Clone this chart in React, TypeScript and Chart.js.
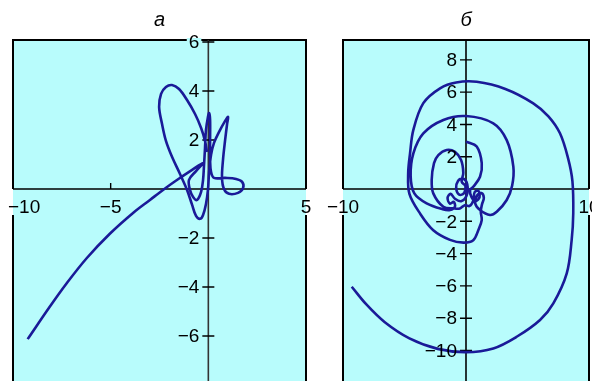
import React, { useEffect, useRef } from 'react';
import { Chart, registerables } from 'chart.js';

Chart.register(...registerables);

const W = 592;
const H = 381;

// ---- Panel а ----
const aX = [
  -9.25, -8.11, -7.25, -6.23, -5.03, -3.84, -2.99, -2.13, -1.45, -0.83, -0.27,
  -0.63, -0.99, -0.94, -0.78, -0.58, -0.37, -0.27, -0.22, -0.17, -0.12, -0.02, 0.04,
  0.09, 0.09, 0.09, 0.14, 0.29, 0.86, 1.42, 1.73, 1.78, 1.52, 1.06, 0.8, 0.7,
  0.75, 0.86, 0.96, 1.01, 0.86, 0.55, 0.29, 0.14, 0.04, -0.02, -0.12, -0.27, -0.42,
  -0.63, -0.83, -1.09, -1.45, -1.86, -2.17, -2.37, -2.52, -2.42, -2.17, -1.86, -1.5,
  -1.09, -0.68, -0.37, -0.17, -0.07,
];
const aY = [
  -6.13, -4.8, -3.85, -2.83, -1.82, -0.97, -0.45, 0.07, 0.45, 0.78, 1.06,
  0.73, 0.37, -0.04, -0.33, -0.45, -0.12, 0.37, 0.98, 1.67, 2.41, 2.94, 3.1,
  2.82, 2.0, 1.18, 0.69, 0.45, 0.45, 0.41, 0.29, 0.04, -0.16, -0.2, 0.0, 0.45,
  1.18, 2.0, 2.65, 2.94, 2.78, 2.33, 1.88, 1.39, 0.69, -0.04, -0.61, -1.06, -1.22,
  -1.1, -0.65, -0.04, 0.61, 1.31, 1.96, 2.65, 3.35, 3.88, 4.16, 4.24, 4.08,
  3.63, 3.06, 2.49, 1.96, 1.51,
];
const aXLabels = [-10, -5, 5];
const aXMarks = [-5];
const aYLabels = [6, 4, 2, -2, -4, -6];

// ---- Panel б ----
const bX = [
  0, 0.87, 1.28, 1.14, 0.59, 0.33,
  0.45, 0.8, 1.1, 1.0, 0.7, 0.6, 0.3, -0.1, -0.5, -1.0,
  -1.84, -2.66, -2.79, -2.6, -2.25, -1.57, -0.9, -0.4, -0.22, -0.35,
  -0.05, -0.15, -0.55, -0.8, -0.65, -0.25, 0.1, 0.05, -0.4, -0.9, -1.25, -1.5, -1.3, -1.0, -0.9, -1.3,
  -1.9, -3.2, -4.2, -4.5, -4.28, -3.47, -1.84, 0, 2.22, 3.31, 3.85, 3.75, 3.31, 2.5, 1.95, 1.14,
  0.75, 0.9, 1.25, 1.45, 1.3, 1.2,
  1.28, 1.0, 0.59, -0.2, -1.3, -2.66, -3.74, -4.6, -4.7, -4.55, -4.28, -3.47, -2.11, -0.8, 0.87,
  3.2, 5.47, 6.7, 7.64, 8.3, 8.65, 8.72, 8.59, 8.19, 7.1, 6.02, 4.12, 2.22, 0, -2.3, -4.6,
  -6.6, -8.1, -9.29,
];
const bY = [
  2.94, 2.63, 1.6, 0.76, 0.14, -0.06,
  -0.5, -0.75, -0.5, -0.1, -0.2, -0.7, -1.05, -1.0, -1.2, -1.2,
  -1.1, -0.27, 0.56, 1.6, 2.1, 2.42, 2.3, 1.8, 1.0, 0.45,
  0.2, -0.25, -0.35, 0.05, 0.5, 0.65, 0.3, -0.4, -0.75, -0.6, -0.3, -0.55, -0.9, -0.8, -1.1, -1.3,
  -1.25, -0.89, -0.27, 0.8, 2.21, 3.45, 4.28, 4.52, 4.07, 3.03, 1.38, 0.2, -0.68, -1.41, -1.61, -1.3,
  -0.9, -0.4, -0.25, -0.55, -0.95, -1.4,
  -1.93, -2.55, -3.17, -3.32, -3.15, -2.55, -1.51, -0.3, 1.0, 2.2, 3.66, 5.32, 6.24, 6.6, 6.64,
  6.2, 5.31, 4.5, 3.45, 1.9, 0.5, -1.5, -3.16, -5.22, -7.08, -8.11, -9.15, -9.87, -10.1, -9.9, -9.25,
  -8.25, -7.15, -6.05,
];
const bXLabels = [-10, 10];
const bXMarks: number[] = [];
const bYLabels = [8, 6, 4, 2, -2, -4, -6, -8, -10];

const CYAN = '#b8fcfc';
const LINE = '#1a1a98';
const FONT = '19px "Liberation Sans", Arial, Helvetica, sans-serif';
const TITLE_FONT = 'italic 20px "Liberation Sans", Arial, Helvetica, sans-serif';

const fmt = (v: number) => (v < 0 ? '\u2212' + Math.abs(v) : String(v));

interface PanelCfg {
  title: string;
  xs: number[];
  ys: number[];
  xMin: number;
  xMax: number;
  yMin: number;
  yMax: number;
  xLabels: number[];
  xMarks: number[];
  yLabels: number[];
  padLeft: number;
  padRight: number;
  axisColor: string;
}

const panels: PanelCfg[] = [
  {
    title: '\u0430', xs: aX, ys: aY, xMin: -10, xMax: 5, yMin: -7.84, yMax: 6.08,
    xLabels: aXLabels, xMarks: aXMarks, yLabels: aYLabels, padLeft: 13, padRight: W - 306, axisColor: '#333',
  },
  {
    title: '\u0431', xs: bX, ys: bY, xMin: -10, xMax: 10, yMin: -11.89, yMax: 9.23,
    xLabels: bXLabels, xMarks: bXMarks, yLabels: bYLabels, padLeft: 343, padRight: W - 589, axisColor: '#000',
  },
];

function decor(cfg: PanelCfg) {
  return {
    id: 'decor',
    beforeDatasetsDraw(chart: any) {
      const { ctx, chartArea: a, scales } = chart;
      const x0 = scales.x.getPixelForValue(0);
      const y0 = scales.y.getPixelForValue(0);
      ctx.save();
      ctx.fillStyle = CYAN;
      ctx.fillRect(a.left, a.top, a.right - a.left, a.bottom - a.top);
      // frame (interrupted in the label row)
      ctx.strokeStyle = '#000';
      ctx.lineWidth = 2;
      ctx.beginPath();
      ctx.moveTo(a.left, y0);
      ctx.lineTo(a.left, a.top);
      ctx.lineTo(a.right, a.top);
      ctx.lineTo(a.right, y0);
      ctx.moveTo(a.left, y0 + 26);
      ctx.lineTo(a.left, a.bottom);
      ctx.moveTo(a.right, y0 + 26);
      ctx.lineTo(a.right, a.bottom);
      ctx.stroke();
      // x axis
      ctx.lineWidth = 1.6;
      ctx.beginPath();
      ctx.moveTo(a.left, y0);
      ctx.lineTo(a.right, y0);
      ctx.stroke();
      // y axis
      ctx.strokeStyle = cfg.axisColor;
      ctx.beginPath();
      ctx.moveTo(x0, a.top);
      ctx.lineTo(x0, a.bottom);
      ctx.stroke();
      // ticks
      ctx.strokeStyle = '#000';
      ctx.lineWidth = 1.4;
      ctx.beginPath();
      cfg.yLabels.forEach((v) => {
        const py = scales.y.getPixelForValue(v);
        ctx.moveTo(x0 - 6, py);
        ctx.lineTo(x0 + 6, py);
      });
      cfg.xMarks.forEach((v) => {
        const px = scales.x.getPixelForValue(v);
        ctx.moveTo(px, y0);
        ctx.lineTo(px, y0 - 6);
      });
      ctx.stroke();
      ctx.restore();
    },
    afterDatasetsDraw(chart: any) {
      const { ctx, chartArea: a, scales } = chart;
      const x0 = scales.x.getPixelForValue(0);
      const y0 = scales.y.getPixelForValue(0);
      ctx.save();
      ctx.font = FONT;
      ctx.fillStyle = '#000';
      // y labels
      ctx.textAlign = 'right';
      ctx.textBaseline = 'middle';
      cfg.yLabels.forEach((v) => {
        const py = scales.y.getPixelForValue(v);
        const t = fmt(v);
        const w = ctx.measureText(t).width;
        if (py - a.top < 6) {
          ctx.fillStyle = CYAN;
          ctx.fillRect(x0 - 9 - w - 2, a.top - 2, w + 4, 4);
          ctx.fillStyle = '#000';
        }
        ctx.fillText(t, x0 - 9, py + 1);
      });
      // x labels
      ctx.textAlign = 'left';
      ctx.textBaseline = 'alphabetic';
      cfg.xLabels.forEach((v) => {
        const px = scales.x.getPixelForValue(v);
        const t = fmt(v);
        const w = ctx.measureText(t).width;
        let left = px - w / 2;
        if (left < 8) left = 8;
        ctx.fillText(t, left, y0 + 24);
      });
      // title
      ctx.font = TITLE_FONT;
      ctx.textAlign = 'center';
      ctx.fillText(cfg.title, (a.left + a.right) / 2, 26);
      ctx.restore();
    },
  };
}

function Panel({ cfg }: { cfg: PanelCfg }) {
  const ref = useRef<HTMLCanvasElement | null>(null);
  useEffect(() => {
    if (!ref.current) return;
    const chart = new Chart(ref.current, {
      type: 'scatter',
      data: {
        datasets: [
          {
            data: cfg.xs.map((x, i) => ({ x, y: cfg.ys[i] })),
            showLine: true,
            borderColor: LINE,
            backgroundColor: LINE,
            borderWidth: 2.6,
            pointRadius: 0,
            tension: 0.35,
            fill: false,
          },
        ],
      },
      options: {
        animation: false,
        responsive: false,
        devicePixelRatio: 1,
        events: [],
        layout: { padding: { left: cfg.padLeft, right: cfg.padRight, top: 40, bottom: 0 } },
        plugins: { legend: { display: false }, tooltip: { enabled: false } },
        scales: {
          x: { type: 'linear', min: cfg.xMin, max: cfg.xMax, display: false },
          y: { type: 'linear', min: cfg.yMin, max: cfg.yMax, display: false },
        },
      },
      plugins: [decor(cfg)],
    } as any);
    return () => chart.destroy();
  }, [cfg]);
  return (
    <canvas
      ref={ref}
      width={W}
      height={H}
      style={{ position: 'absolute', left: 0, top: 0, width: W, height: H }}
    />
  );
}

export default function App() {
  return (
    <div style={{ position: 'absolute', left: 0, top: 0, width: W, height: H, background: '#fff' }}>
      {panels.map((p, i) => (
        <Panel key={i} cfg={p} />
      ))}
    </div>
  );
}
